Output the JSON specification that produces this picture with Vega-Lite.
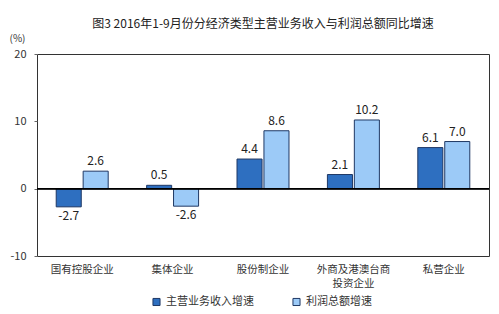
{
  "$schema": "https://vega.github.io/schema/vega-lite/v6.json",
  "width": 452,
  "height": 202,
  "autosize": {"type": "none"},
  "padding": {"left": 37, "top": 54, "right": 10, "bottom": 58},
  "background": "white",
  "title": {
    "text": "图3 2016年1-9月份分经济类型主营业务收入与利润总额同比增速",
    "font": "Noto Sans CJK SC",
    "fontSize": 12,
    "fontWeight": "normal",
    "color": "#222",
    "offset": 2,
    "anchor": "middle"
  },
  "config": {
    "view": {"stroke": "#333", "strokeWidth": 1},
    "font": "Noto Sans CJK SC",
    "locale": {"number": {"decimal": ".", "thousands": ",", "grouping": [3], "currency": ["", ""], "minus": "-"}}
  },
  "data": {
    "values": [
      {"category": "国有控股企业", "series": "主营业务收入增速", "value": -2.7},
      {"category": "国有控股企业", "series": "利润总额增速", "value": 2.6},
      {"category": "集体企业", "series": "主营业务收入增速", "value": 0.5},
      {"category": "集体企业", "series": "利润总额增速", "value": -2.6},
      {"category": "股份制企业", "series": "主营业务收入增速", "value": 4.4},
      {"category": "股份制企业", "series": "利润总额增速", "value": 8.6},
      {"category": "外商及港澳台商投资企业", "series": "主营业务收入增速", "value": 2.1},
      {"category": "外商及港澳台商投资企业", "series": "利润总额增速", "value": 10.2},
      {"category": "私营企业", "series": "主营业务收入增速", "value": 6.1},
      {"category": "私营企业", "series": "利润总额增速", "value": 7.0}
    ]
  },
  "encoding": {
    "x": {
      "field": "category",
      "type": "nominal",
      "sort": null,
      "scale": {"paddingInner": 0.425, "paddingOuter": 0.2125},
      "axis": {
        "title": null,
        "domain": false,
        "ticks": false,
        "labelAngle": 0,
        "labelFontSize": 10.5,
        "labelColor": "#333",
        "labelPadding": 8,
        "labelLineHeight": 14,
        "labelExpr": "datum.value == '外商及港澳台商投资企业' ? ['外商及港澳台商', '投资企业'] : datum.value"
      }
    },
    "xOffset": {
      "field": "series",
      "type": "nominal",
      "sort": ["主营业务收入增速", "利润总额增速"],
      "scale": {"paddingInner": 0.07}
    },
    "y": {
      "field": "value",
      "type": "quantitative",
      "scale": {"domain": [-10, 20], "nice": false},
      "axis": {
        "title": "(%)",
        "titleAngle": 0,
        "titleFontSize": 10,
        "titleFontWeight": "normal",
        "titleColor": "#333",
        "titleX": -28,
        "titleY": -11,
        "titleAlign": "left",
        "values": [-10, 0, 10, 20],
        "grid": false,
        "domain": false,
        "tickSize": 3,
        "tickColor": "#666",
        "labelFontSize": 11,
        "labelColor": "#333",
        "labelPadding": 8
      }
    }
  },
  "layer": [
    {
      "mark": {"type": "bar", "stroke": "#1f3864", "strokeWidth": 1},
      "encoding": {
        "color": {
          "field": "series",
          "type": "nominal",
          "sort": ["主营业务收入增速", "利润总额增速"],
          "scale": {"range": ["#2e6fc0", "#9ccaf7"]},
          "legend": {
            "title": null,
            "orient": "none",
            "legendX": 114,
            "legendY": 242,
            "direction": "horizontal",
            "symbolType": "square",
            "symbolSize": 50,
            "symbolStrokeColor": "#1f3864",
            "symbolStrokeWidth": 1,
            "labelFontSize": 11,
            "labelColor": "#333",
            "columnPadding": 36
          }
        }
      }
    },
    {
      "mark": {"type": "rule", "color": "#000", "strokeWidth": 1},
      "encoding": {"y": {"datum": 0}, "x": null, "xOffset": null}
    },
    {
      "transform": [{"filter": "datum.value >= 0"}],
      "mark": {"type": "text", "baseline": "bottom", "dy": -3, "fontSize": 12, "color": "#222"},
      "encoding": {"text": {"field": "value", "type": "quantitative", "format": ".1f"}}
    },
    {
      "transform": [{"filter": "datum.value < 0"}],
      "mark": {"type": "text", "baseline": "top", "dy": 4, "fontSize": 12, "color": "#222"},
      "encoding": {"text": {"field": "value", "type": "quantitative", "format": ".1f"}}
    }
  ]
}
